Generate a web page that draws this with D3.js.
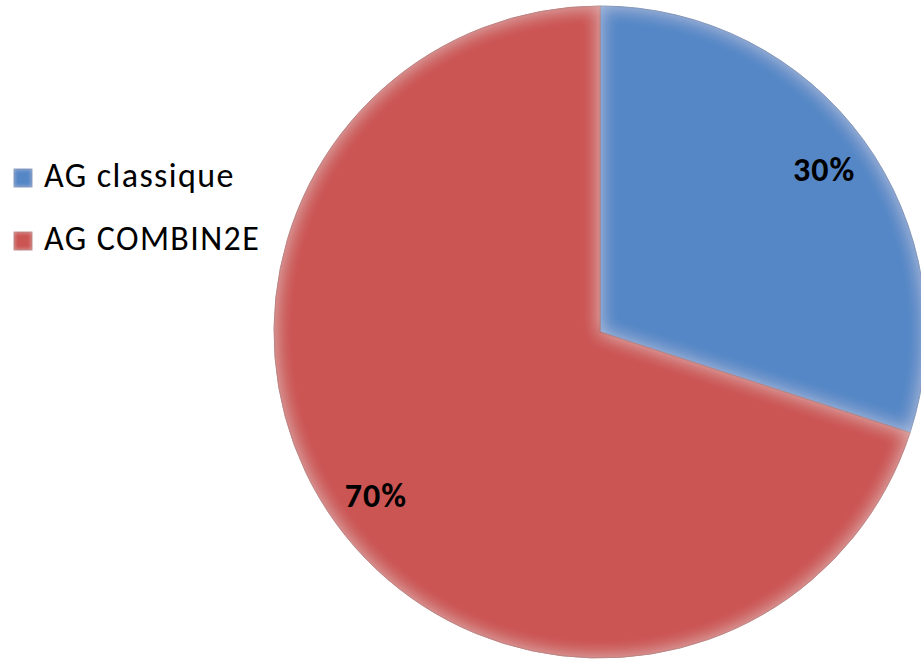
<!DOCTYPE html>
<html>
<head>
<meta charset="utf-8">
<script src="https://cdn.jsdelivr.net/npm/d3@7"></script>
<style>
  body { margin: 0; background: #fff; }
  svg { display: block; font-family: Carlito, Lato, "Open Sans", sans-serif; }
</style>
</head>
<body>
<svg width="921" height="661"></svg>
<script>
var categories = ["AG classique", "AG COMBIN2E"],
    values = [30, 70],
    labels = ["30%", "70%"],
    colors = ["#5587c6", "#cb5552"],
    edgeColors = ["#3d6aa3", "#a53f3c"];

var svg = d3.select("svg"),
    cx = 600,
    cy = 332,
    radius = 326;

var defs = svg.append("defs");

// inner bevel: light band along every edge of a shape
function makeBevel(id, blur, opacity) {
    var f = defs.append("filter")
        .attr("id", id)
        .attr("x", "-10%").attr("y", "-10%")
        .attr("width", "120%").attr("height", "120%");
    f.append("feGaussianBlur")
        .attr("in", "SourceAlpha")
        .attr("stdDeviation", blur)
        .attr("result", "blur");
    f.append("feComposite")
        .attr("in", "SourceAlpha")
        .attr("in2", "blur")
        .attr("operator", "out")
        .attr("result", "rim");
    f.append("feFlood")
        .attr("flood-color", "#ffffff")
        .attr("flood-opacity", opacity);
    f.append("feComposite")
        .attr("in2", "rim")
        .attr("operator", "in")
        .attr("result", "glow");
    var m = f.append("feMerge");
    m.append("feMergeNode").attr("in", "SourceGraphic");
    m.append("feMergeNode").attr("in", "glow");
}
makeBevel("bevel", 9, 0.4);
makeBevel("bevelSmall", 2, 0.4);

var pie = d3.pie().sort(null).value(function(d) { return d; }),
    arc = d3.arc().innerRadius(0).outerRadius(radius),
    labelArc = d3.arc().innerRadius(radius * 0.85).outerRadius(radius * 0.85);

var g = svg.append("g")
    .attr("transform", "translate(" + cx + "," + cy + ")");

var arcs = pie(values);

g.selectAll("path.slice")
    .data(arcs)
    .enter().append("path")
        .attr("class", "slice")
        .attr("d", arc)
        .attr("fill", function(d, i) { return colors[i]; })
        .attr("stroke", function(d, i) { return edgeColors[i]; })
        .attr("stroke-width", 1)
        .attr("filter", "url(#bevel)");

g.selectAll("text.pct")
    .data(arcs)
    .enter().append("text")
        .attr("class", "pct")
        .attr("transform", function(d) { return "translate(" + labelArc.centroid(d) + ")"; })
        .attr("text-anchor", "middle")
        .attr("dy", "0.35em")
        .attr("font-size", 34)
        .attr("font-weight", "bold")
        .attr("letter-spacing", 1)
        .attr("fill", "#000")
        .text(function(d, i) { return labels[i]; });

// legend
var legend = svg.append("g").attr("transform", "translate(14,169)");
var item = legend.selectAll("g")
    .data(categories)
    .enter().append("g")
        .attr("transform", function(d, i) { return "translate(0," + (i * 63) + ")"; });

item.append("rect")
    .attr("width", 18)
    .attr("height", 18)
    .attr("fill", function(d, i) { return colors[i]; })
    .attr("stroke", function(d, i) { return edgeColors[i]; })
    .attr("stroke-width", 0.8)
    .attr("filter", "url(#bevelSmall)");

item.append("text")
    .attr("x", 30)
    .attr("y", 18)
    .attr("font-size", 34)
    .attr("letter-spacing", 1.4)
    .attr("fill", "#000")
    .text(function(d) { return d; });
</script>
</body>
</html>
